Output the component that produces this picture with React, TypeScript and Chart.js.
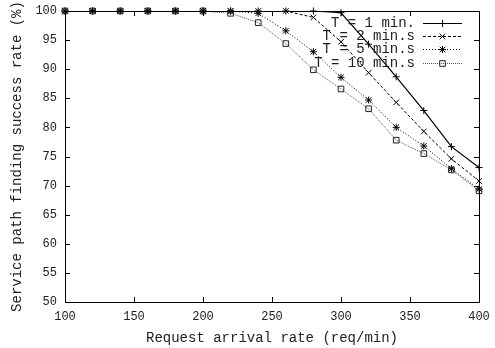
import React, { useEffect, useRef } from 'react';
import { Chart, registerables } from 'chart.js';
Chart.register(...registerables);

const rates = [100, 120, 140, 160, 180, 200, 220, 240, 260, 280, 300, 320, 340, 360, 380, 400];
const t1 = [100, 100, 100, 100, 100, 100, 100, 100, 100, 100, 99.7, 94.3, 88.7, 82.9, 76.7, 73.1];
const t2 = [100, 100, 100, 100, 100, 100, 100, 100, 100, 98.9, 94.7, 89.4, 84.3, 79.3, 74.6, 70.8];
const t5 = [100, 100, 100, 100, 100, 100, 100, 99.6, 96.6, 93.0, 88.6, 84.7, 80.0, 76.8, 72.9, 69.4];
const t10 = [100, 100, 100, 100, 100, 100, 99.6, 98.0, 94.4, 89.9, 86.6, 83.2, 77.8, 75.5, 72.7, 69.1];
const seriesLabels = ['T = 1 min.', 'T = 2 min.s', 'T = 5 min.s', 'T = 10 min.s'];
const xTicks = [100, 150, 200, 250, 300, 350, 400];
const yTicks = [50, 55, 60, 65, 70, 75, 80, 85, 90, 95, 100];

const MONO = '"Liberation Mono", "DejaVu Sans Mono", monospace';

const styles = [
  { color: '#000', dash: [] as number[], width: 1.2, marker: 'plus' },
  { color: '#000', dash: [3, 2], width: 1, marker: 'x' },
  { color: '#000', dash: [1, 2], width: 1, marker: 'star' },
  { color: '#555', dash: [1, 1], width: 1, marker: 'square' },
];

function drawMarker(ctx: CanvasRenderingContext2D, m: string, x: number, y: number, r: number, color: string) {
  ctx.save();
  ctx.setLineDash([]);
  ctx.strokeStyle = m === 'square' ? '#222' : color;
  ctx.lineWidth = 1;
  ctx.beginPath();
  if (m === 'plus' || m === 'star') {
    ctx.moveTo(x - r, y); ctx.lineTo(x + r, y);
    ctx.moveTo(x, y - r); ctx.lineTo(x, y + r);
  }
  if (m === 'x' || m === 'star') {
    const d = r * 0.8;
    ctx.moveTo(x - d, y - d); ctx.lineTo(x + d, y + d);
    ctx.moveTo(x - d, y + d); ctx.lineTo(x + d, y - d);
  }
  if (m === 'square') {
    const d = r * 0.8;
    ctx.rect(x - d, y - d, 2 * d, 2 * d);
  }
  ctx.stroke();
  ctx.restore();
}

const framePlugin = {
  id: 'gnuframe',
  afterDatasetsDraw(chart: any) {
    const ctx: CanvasRenderingContext2D = chart.ctx;
    const { left, right, top, bottom } = chart.chartArea;
    const xs = chart.scales.x;
    const ys = chart.scales.y;
    chart.data.datasets.forEach((ds: any, i: number) => {
      const meta = chart.getDatasetMeta(i);
      meta.data.forEach((pt: any) => {
        drawMarker(ctx, styles[i].marker, pt.x, pt.y, 3.5, styles[i].color);
      });
    });
    ctx.save();
    ctx.strokeStyle = '#000';
    ctx.lineWidth = 1;
    ctx.setLineDash([]);
    ctx.beginPath();
    ctx.rect(Math.round(left) + 0.5, Math.round(top) + 0.5, Math.round(right - left), Math.round(bottom - top));
    const L = 5;
    xTicks.forEach((v) => {
      const px = Math.round(xs.getPixelForValue(v)) + 0.5;
      ctx.moveTo(px, bottom); ctx.lineTo(px, bottom - L);
      ctx.moveTo(px, top); ctx.lineTo(px, top + L);
    });
    yTicks.forEach((v) => {
      const py = Math.round(ys.getPixelForValue(v)) + 0.5;
      ctx.moveTo(left, py); ctx.lineTo(left + L, py);
      ctx.moveTo(right, py); ctx.lineTo(right - L, py);
    });
    ctx.stroke();
    ctx.font = `14px ${MONO}`;
    ctx.fillStyle = '#222';
    ctx.textAlign = 'right';
    ctx.textBaseline = 'middle';
    const rowsY = [22.5, 35.5, 49, 62.5];
    seriesLabels.forEach((lab, i) => {
      const y = rowsY[i];
      ctx.fillText(lab, 415, y + 0.5);
      ctx.save();
      ctx.strokeStyle = styles[i].color;
      ctx.lineWidth = styles[i].width;
      ctx.setLineDash(styles[i].dash);
      ctx.beginPath();
      ctx.moveTo(423, Math.round(y) + 0.5);
      ctx.lineTo(462, Math.round(y) + 0.5);
      ctx.stroke();
      ctx.restore();
      drawMarker(ctx, styles[i].marker, 442.5, Math.round(y) + 0.5, 3.5, styles[i].color);
    });
    ctx.restore();
  },
};

function zeroPad(s: any) {
  s.paddingTop = 0;
  s.paddingBottom = 0;
  s.paddingLeft = 0;
  s.paddingRight = 0;
}

export default function App() {
  const ref = useRef<HTMLCanvasElement>(null);
  useEffect(() => {
    const series = [t1, t2, t5, t10];
    const chart = new Chart(ref.current!, {
      type: 'scatter',
      data: {
        datasets: series.map((s, i) => ({
          label: seriesLabels[i],
          data: rates.map((x, j) => ({ x, y: s[j] })),
          showLine: true,
          borderColor: styles[i].color,
          borderWidth: styles[i].width,
          borderDash: styles[i].dash,
          pointRadius: 0,
          pointHoverRadius: 0,
          tension: 0,
        })),
      },
      options: {
        animation: false,
        responsive: false,
        events: [],
        layout: { padding: { left: 0, right: 16, top: 11, bottom: 0 } },
        plugins: { legend: { display: false }, tooltip: { enabled: false } },
        scales: {
          x: {
            type: 'linear',
            min: 100,
            max: 400,
            afterFit: (s: any) => { s.height = 46; zeroPad(s); },
            grid: { display: false, drawTicks: false },
            border: { display: false },
            ticks: {
              stepSize: 50,
              padding: 8,
              color: '#222',
              font: { family: MONO, size: 12 },
              maxRotation: 0,
              autoSkip: false,
            },
            title: {
              display: true,
              text: 'Request arrival rate (req/min)',
              color: '#222',
              font: { family: MONO, size: 14 },
              padding: { top: 2, bottom: 1 },
            },
          },
          y: {
            min: 50,
            max: 100,
            afterFit: (s: any) => { s.width = 65; zeroPad(s); },
            grid: { display: false, drawTicks: false },
            border: { display: false },
            ticks: {
              stepSize: 5,
              padding: 8,
              color: '#222',
              font: { family: MONO, size: 12 },
              autoSkip: false,
            },
            title: {
              display: true,
              text: 'Service path finding success rate (%)',
              color: '#222',
              font: { family: MONO, size: 14 },
              padding: { top: 9, bottom: 0 },
            },
          },
        },
      },
      plugins: [framePlugin],
    });
    return () => chart.destroy();
  }, []);
  return (
    <div style={{ position: 'fixed', left: 0, top: 0, width: 495, height: 348, background: '#fff' }}>
      <canvas ref={ref} width={495} height={348} style={{ width: 495, height: 348 }} />
    </div>
  );
}
